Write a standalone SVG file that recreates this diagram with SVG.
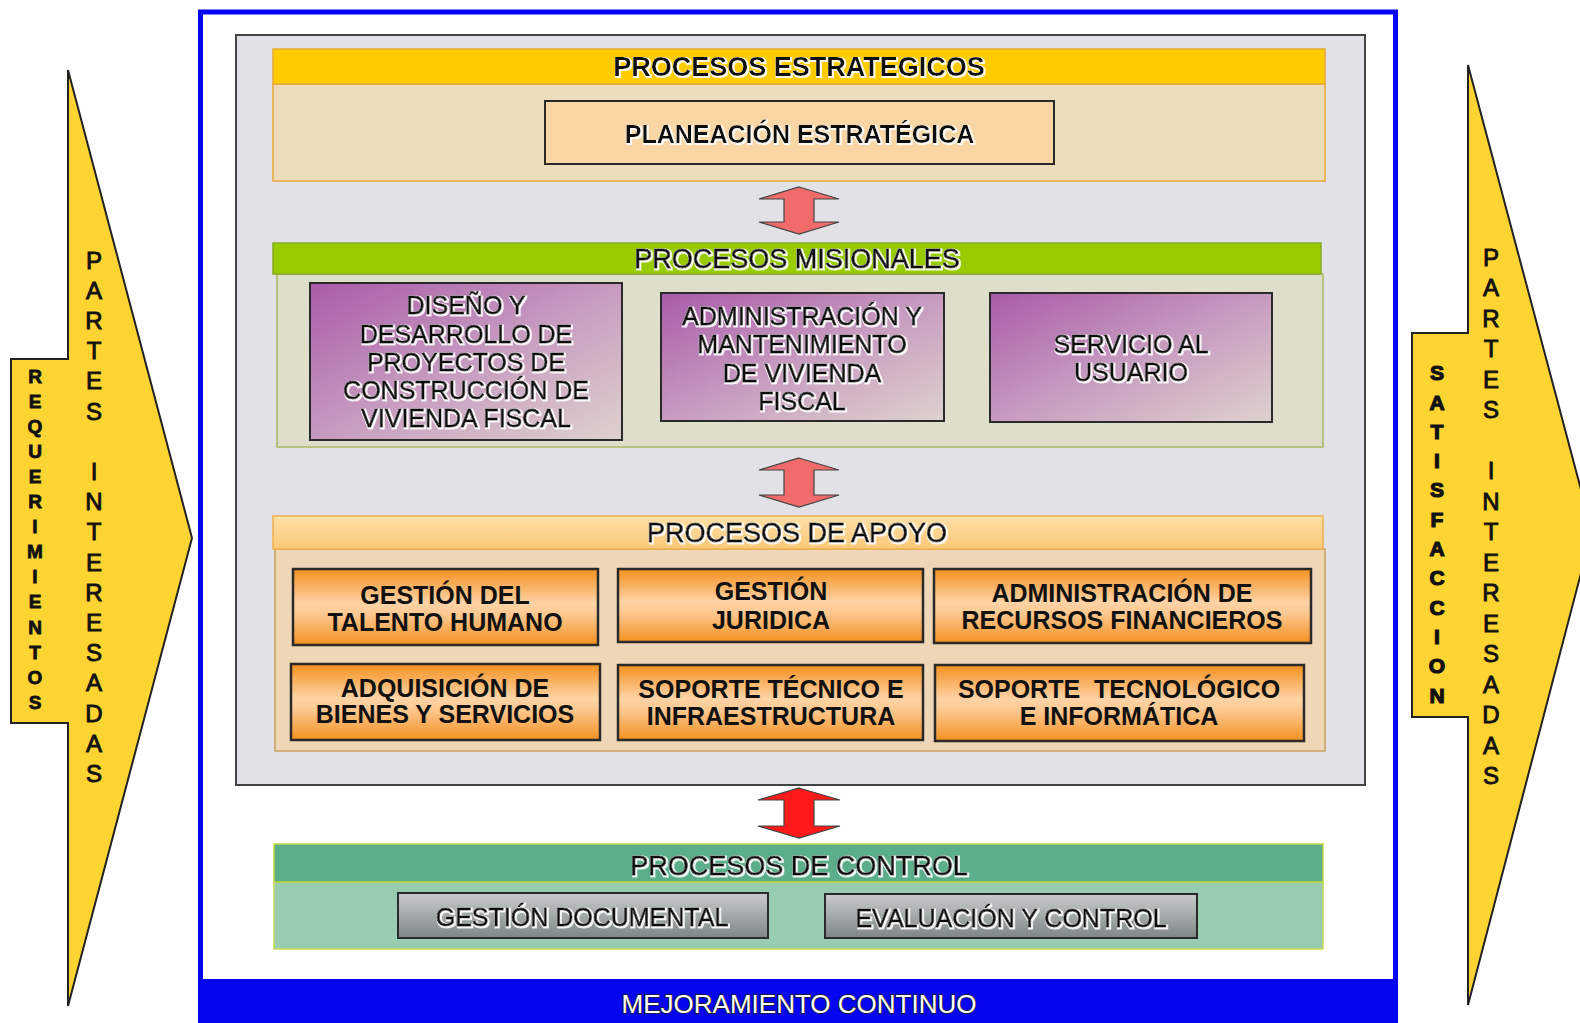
<svg xmlns="http://www.w3.org/2000/svg" width="1580" height="1023" viewBox="0 0 1580 1023">
<defs>
<linearGradient id="purpleGrad" x1="0" y1="0" x2="1" y2="1">
<stop offset="0" stop-color="#a95ba9"/>
<stop offset="0.5" stop-color="#c79ac0"/>
<stop offset="1" stop-color="#ded2cc"/>
</linearGradient>
<linearGradient id="orangeGrad" x1="0" y1="0" x2="0" y2="1">
<stop offset="0" stop-color="#f4901e"/>
<stop offset="0.45" stop-color="#fed3a6"/>
<stop offset="0.6" stop-color="#fdc890"/>
<stop offset="1" stop-color="#f39020"/>
</linearGradient>
<linearGradient id="grayGrad" x1="0" y1="0" x2="0" y2="1">
<stop offset="0" stop-color="#c8cbcb"/>
<stop offset="1" stop-color="#7e8686"/>
</linearGradient>
<linearGradient id="apoyoHdr" x1="0" y1="0" x2="0" y2="1">
<stop offset="0" stop-color="#fee0a6"/>
<stop offset="1" stop-color="#fcc878"/>
</linearGradient>
<filter id="glow" x="-5%" y="-30%" width="110%" height="160%">
<feMorphology in="SourceAlpha" operator="dilate" radius="1" result="d"/>
<feFlood flood-color="#fff" flood-opacity="0.9"/>
<feComposite in2="d" operator="in" result="w"/>
<feOffset in="w" dx="0.8" dy="0.8" result="wo"/>
<feMerge><feMergeNode in="wo"/><feMergeNode in="SourceGraphic"/></feMerge>
</filter>
</defs>
<style>
text{font-family:"Liberation Sans",Arial,sans-serif;fill:#111;text-anchor:middle}
.hdr{font-size:27px}
.b{font-weight:bold}
.out{stroke:#111;stroke-width:0.8px;filter:url(#glow)}
.bo{filter:url(#glow)}
.box{stroke:#2a2a2a;stroke-width:2}
.mis{fill:url(#purpleGrad)}
.apo{fill:url(#orangeGrad);stroke-width:2.5}
.ctl{fill:url(#grayGrad)}
.mt{font-size:25px}
.at{font-size:25px;font-weight:bold}
.arrowY{fill:#fdd431;stroke:#222;stroke-width:2;stroke-linejoin:miter}
.vt{font-weight:bold;stroke:#111;stroke-width:0.8px}
.pt{font-size:24px;stroke:#111;stroke-width:0.9px}
.dbl{stroke:#444;stroke-width:1.2}
</style>

<!-- outer frame -->
<g id="frame">
<rect x="200.5" y="12" width="1195" height="1020" fill="#fff" stroke="#0505f0" stroke-width="5"/>
<rect x="198" y="979" width="1200" height="44" fill="#0505f0"/>
<text x="799" y="1013" style="font-size:26px;fill:#fff;stroke:#222;stroke-width:1.6px;paint-order:stroke">MEJORAMIENTO CONTINUO</text>
</g>

<!-- left arrow -->
<g id="left-arrow">
<polygon class="arrowY" points="68,70 192,538 68,1006 68,723 11,723 11,359 68,359"/>
<text class="vt" style="font-size:19px" x="35"><tspan x="35" y="382.5">R</tspan><tspan x="35" y="407.6">E</tspan><tspan x="35" y="432.7">Q</tspan><tspan x="35" y="457.8">U</tspan><tspan x="35" y="482.9">E</tspan><tspan x="35" y="508">R</tspan><tspan x="35" y="533.1">I</tspan><tspan x="35" y="558.2">M</tspan><tspan x="35" y="583.3">I</tspan><tspan x="35" y="608.4">E</tspan><tspan x="35" y="633.5">N</tspan><tspan x="35" y="658.6">T</tspan><tspan x="35" y="683.7">O</tspan><tspan x="35" y="708.8">S</tspan></text>
<text class="pt" x="94"><tspan x="94" y="268.6">P</tspan><tspan x="94" y="298.8">A</tspan><tspan x="94" y="329">R</tspan><tspan x="94" y="359.2">T</tspan><tspan x="94" y="389.4">E</tspan><tspan x="94" y="419.6">S</tspan><tspan x="94" y="480">I</tspan><tspan x="94" y="510.2">N</tspan><tspan x="94" y="540.4">T</tspan><tspan x="94" y="570.6">E</tspan><tspan x="94" y="600.8">R</tspan><tspan x="94" y="631">E</tspan><tspan x="94" y="661.2">S</tspan><tspan x="94" y="691.4">A</tspan><tspan x="94" y="721.6">D</tspan><tspan x="94" y="751.8">A</tspan><tspan x="94" y="782">S</tspan></text>
</g>

<!-- right arrow -->
<g id="right-arrow">
<polygon class="arrowY" points="1468,65 1592,531 1468,1005 1468,717 1412,717 1412,333 1468,333"/>
<text class="vt" style="font-size:21px;stroke-width:1.2px" x="1437"><tspan x="1437" y="380.2">S</tspan><tspan x="1437" y="409.5">A</tspan><tspan x="1437" y="438.8">T</tspan><tspan x="1437" y="468.1">I</tspan><tspan x="1437" y="497.4">S</tspan><tspan x="1437" y="526.7">F</tspan><tspan x="1437" y="556">A</tspan><tspan x="1437" y="585.3">C</tspan><tspan x="1437" y="614.6">C</tspan><tspan x="1437" y="643.9">I</tspan><tspan x="1437" y="673.2">O</tspan><tspan x="1437" y="702.5">N</tspan></text>
<text class="pt" x="1491"><tspan x="1491" y="265.6">P</tspan><tspan x="1491" y="296.1">A</tspan><tspan x="1491" y="326.6">R</tspan><tspan x="1491" y="357.1">T</tspan><tspan x="1491" y="387.6">E</tspan><tspan x="1491" y="418.1">S</tspan><tspan x="1491" y="479.1">I</tspan><tspan x="1491" y="509.6">N</tspan><tspan x="1491" y="540.1">T</tspan><tspan x="1491" y="570.6">E</tspan><tspan x="1491" y="601.1">R</tspan><tspan x="1491" y="631.6">E</tspan><tspan x="1491" y="662.1">S</tspan><tspan x="1491" y="692.6">A</tspan><tspan x="1491" y="723.1">D</tspan><tspan x="1491" y="753.6">A</tspan><tspan x="1491" y="784.1">S</tspan></text>
</g>

<!-- gray container -->
<g id="core">
<rect x="236" y="35" width="1129" height="750" fill="#e2e1e6" stroke="#444" stroke-width="2"/>
</g>

<!-- strategic -->
<g id="estrategicos">
<rect x="273" y="84" width="1052" height="97" fill="#eddcbc" stroke="#e8a838" stroke-width="1.5"/>
<rect x="273" y="49" width="1052" height="35" fill="#ffcc00" stroke="#e8a838" stroke-width="1.5"/>
<text class="hdr b bo" x="799" y="76">PROCESOS ESTRATEGICOS</text>
</g>
<g id="planeacion">
<rect x="545" y="101" width="509" height="63" fill="#f9d6a4" class="box"/>
<text class="b bo" style="font-size:25px" x="799.5" y="143">PLANEACIÓN ESTRATÉGICA</text>
</g>

<!-- misionales -->
<g id="misionales">
<rect x="277" y="274" width="1046" height="173" fill="#dfdecb" stroke="#a8b860" stroke-width="1.5"/>
<rect x="273" y="243" width="1048" height="31" fill="#99cc00" stroke="#88aa22" stroke-width="1.5"/>
<text class="hdr out" x="797" y="267.7">PROCESOS MISIONALES</text>
</g>
<g id="diseno">
<rect x="310" y="283" width="312" height="157" class="box mis"/>
<text class="mt out" x="466"><tspan x="466" y="314">DISEÑO Y</tspan><tspan x="466" y="343">DESARROLLO DE</tspan><tspan x="466" y="371">PROYECTOS DE</tspan><tspan x="466" y="399">CONSTRUCCIÓN DE</tspan><tspan x="466" y="427">VIVIENDA FISCAL</tspan></text>
</g>
<g id="administracion-vivienda">
<rect x="661" y="293" width="283" height="128" class="box mis"/>
<text class="mt out" x="802"><tspan x="802" y="325">ADMINISTRACIÓN Y</tspan><tspan x="802" y="353">MANTENIMIENTO</tspan><tspan x="802" y="382">DE VIVIENDA</tspan><tspan x="802" y="410">FISCAL</tspan></text>
</g>
<g id="servicio">
<rect x="990" y="293" width="282" height="129" class="box mis"/>
<text class="mt out" x="1131"><tspan x="1131" y="353">SERVICIO AL</tspan><tspan x="1131" y="381">USUARIO</tspan></text>
</g>

<!-- apoyo -->
<g id="apoyo">
<rect x="275" y="549" width="1050" height="202" fill="#eed6b6" stroke="#c8a060" stroke-width="1.5"/>
<rect x="273" y="516" width="1050" height="33" fill="url(#apoyoHdr)" stroke="#f0b050" stroke-width="1.5"/>
<text class="hdr out" x="797" y="541.7">PROCESOS DE APOYO</text>
</g>
<g id="talento">
<rect x="293" y="569" width="305" height="76" class="box apo"/>
<text class="at" x="445"><tspan x="445" y="603.6">GESTIÓN DEL</tspan><tspan x="445" y="630.6">TALENTO HUMANO</tspan></text>
</g>
<g id="juridica">
<rect x="618" y="569" width="305" height="73" class="box apo"/>
<text class="at" x="771"><tspan x="771" y="599.6">GESTIÓN</tspan><tspan x="771" y="628.6">JURIDICA</tspan></text>
</g>
<g id="financieros">
<rect x="934" y="569" width="377" height="74" class="box apo"/>
<text class="at" x="1122"><tspan x="1122" y="601.6">ADMINISTRACIÓN DE</tspan><tspan x="1122" y="628.6">RECURSOS FINANCIEROS</tspan></text>
</g>
<g id="adquisicion">
<rect x="291" y="664" width="309" height="76" class="box apo"/>
<text class="at" x="445"><tspan x="445" y="696.6">ADQUISICIÓN DE</tspan><tspan x="445" y="722.6">BIENES Y SERVICIOS</tspan></text>
</g>
<g id="soporte-tecnico">
<rect x="618" y="665" width="305" height="75" class="box apo"/>
<text class="at" x="771"><tspan x="771" y="697.6">SOPORTE TÉCNICO E</tspan><tspan x="771" y="724.6">INFRAESTRUCTURA</tspan></text>
</g>
<g id="soporte-tecnologico">
<rect x="935" y="665" width="369" height="76" class="box apo"/>
<text class="at" x="1119" style="white-space:pre"><tspan x="1119" y="697.6">SOPORTE  TECNOLÓGICO</tspan><tspan x="1119" y="724.6">E INFORMÁTICA</tspan></text>
</g>

<!-- control -->
<g id="control">
<rect x="274" y="882" width="1049" height="67" fill="#97ccb1" stroke="#c8dc50" stroke-width="1.5"/>
<rect x="274" y="844" width="1049" height="38" fill="#5bae8a" stroke="#c0d840" stroke-width="1.5"/>
<text class="hdr out" x="799" y="874.7">PROCESOS DE CONTROL</text>
</g>
<g id="documental">
<rect x="398" y="893" width="370" height="45" class="box ctl"/>
<text class="mt out" x="582" y="926">GESTIÓN DOCUMENTAL</text>
</g>
<g id="evaluacion">
<rect x="825" y="894" width="372" height="44" class="box ctl"/>
<text class="mt out" x="1011" y="927">EVALUACIÓN Y CONTROL</text>
</g>

<!-- connectors -->
<g id="connectors">
<polygon class="dbl" fill="#f26b6b" points="799,187 839,199 814,199 814,222 839,222 799,234 759,222 784,222 784,199 759,199"/>
<polygon class="dbl" fill="#f26b6b" points="799,458 839,470 814,470 814,495 839,495 799,507 759,495 784,495 784,470 759,470"/>
<polygon class="dbl" fill="#ff1a1a" points="799,788 840,800 814,800 814,826 840,826 799,838 758,826 784,826 784,800 758,800"/>
</g>
</svg>
